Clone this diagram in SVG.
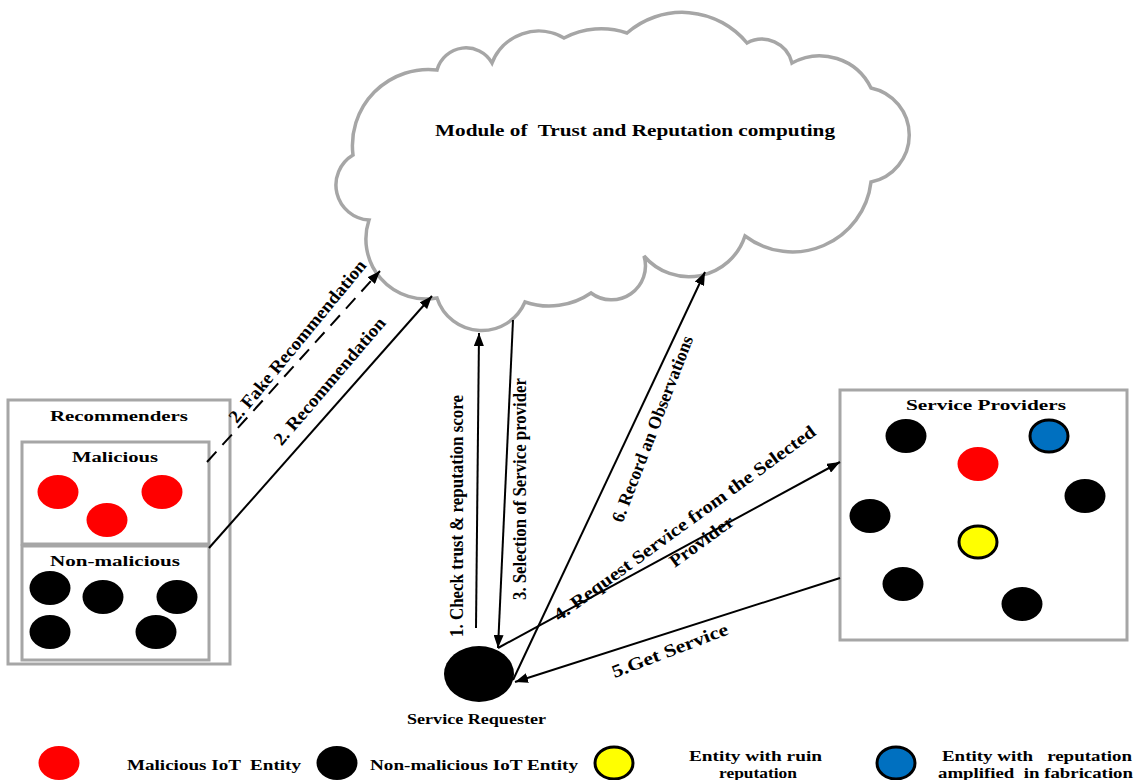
<svg xmlns="http://www.w3.org/2000/svg" width="1137" height="780" viewBox="0 0 1137 780">
<style>
.box{fill:#fff;stroke:#a6a6a6;stroke-width:3}
.cloud{fill:#fff;stroke:#a6a6a6;stroke-width:3.5}
.t{font-family:"Liberation Serif","Times New Roman",serif;font-weight:bold;fill:#000;white-space:pre}
.lbl{font-size:18px}
.hd{font-size:15px}
.lg{font-size:14px}
.conn{stroke:#000;stroke-width:2;fill:none;marker-end:url(#ah)}
.dash{stroke-dasharray:14 9}
.red{fill:#ff0000}
.blk{fill:#000}
.yel{fill:#ffff00;stroke:#000;stroke-width:3}
.blu{fill:#0070c0;stroke:#000;stroke-width:3}
</style>
<defs>
<marker id="ah" viewBox="0 0 13 10" refX="13" refY="5" markerWidth="13" markerHeight="10" markerUnits="userSpaceOnUse" orient="auto">
<path d="M0,0 L13,5 L0,10 Z" fill="#000"/>
</marker>
</defs>
<rect width="1137" height="780" fill="#fff"/>

<g id="cloud">
<path class="cloud" d="M353 155 A76 76 0 0 1 437 70 A30 30 0 0 1 492 63 A50 50 0 0 1 564 38 A80 80 0 0 1 627 33 A84 84 0 0 1 747 43 A31 31 0 0 1 792 63 A57 57 0 0 1 871 88 A48 48 0 0 1 871 182 A79 79 0 0 1 745 236 A59 59 0 0 1 644 256 A34 34 0 0 1 591 293 A74 74 0 0 1 525 302 A47 47 0 0 1 437 298 A60 60 0 0 1 369 220 A35 35 0 0 1 353 155 Z"/>
<text class="t" x="435" y="136" font-size="16" textLength="400" lengthAdjust="spacingAndGlyphs">Module of  Trust and Reputation computing</text>
</g>

<g id="recommenders">
<rect class="box" x="8" y="400" width="222" height="264"/>
<text class="t hd" x="50" y="421" textLength="138" lengthAdjust="spacingAndGlyphs">Recommenders</text>
</g>
<g id="malicious">
<rect class="box" x="22" y="442" width="187" height="102"/>
<text class="t hd" x="72" y="462" textLength="86" lengthAdjust="spacingAndGlyphs">Malicious</text>
<ellipse class="red" cx="58" cy="492" rx="20.5" ry="17"/>
<ellipse class="red" cx="162" cy="492" rx="20.5" ry="17"/>
<ellipse class="red" cx="107" cy="520" rx="20.5" ry="17"/>
</g>
<g id="non-malicious">
<rect class="box" x="22" y="546" width="187" height="114"/>
<text class="t hd" x="50" y="566" textLength="130" lengthAdjust="spacingAndGlyphs">Non-malicious</text>
<ellipse class="blk" cx="50" cy="588" rx="20.5" ry="17"/>
<ellipse class="blk" cx="103" cy="597" rx="20.5" ry="17"/>
<ellipse class="blk" cx="177" cy="597" rx="20.5" ry="17"/>
<ellipse class="blk" cx="50" cy="632" rx="20.5" ry="17"/>
<ellipse class="blk" cx="156" cy="632" rx="20.5" ry="17"/>
</g>

<g id="service-providers">
<rect class="box" x="840" y="390" width="287" height="250"/>
<text class="t hd" x="906" y="410" textLength="160" lengthAdjust="spacingAndGlyphs">Service Providers</text>
<ellipse class="blk" cx="906" cy="436" rx="20.5" ry="17"/>
<ellipse class="blu" cx="1049" cy="436" rx="19" ry="16"/>
<ellipse class="red" cx="978" cy="464" rx="20.5" ry="17"/>
<ellipse class="blk" cx="1085" cy="496" rx="20.5" ry="17"/>
<ellipse class="blk" cx="870" cy="516" rx="20.5" ry="17"/>
<ellipse class="yel" cx="978" cy="542" rx="19" ry="16"/>
<ellipse class="blk" cx="903" cy="584" rx="20.5" ry="17"/>
<ellipse class="blk" cx="1022" cy="604" rx="20.5" ry="17"/>
</g>

<g id="service-requester">
<ellipse class="blk" cx="479" cy="674" rx="35" ry="28"/>
<text class="t" x="407" y="724" font-size="14" textLength="139" lengthAdjust="spacingAndGlyphs">Service Requester</text>
</g>

<g id="connectors">
<line class="conn dash" x1="207" y1="462" x2="380" y2="271"/>
<line class="conn" x1="209" y1="548" x2="432" y2="296"/>
<line class="conn" x1="476" y1="628" x2="479" y2="333"/>
<line class="conn" x1="513" y1="320" x2="498" y2="648"/>
<line class="conn" x1="513" y1="680" x2="705" y2="272"/>
<line class="conn" x1="498" y1="648" x2="840" y2="462"/>
<line class="conn" x1="840" y1="578" x2="515" y2="682"/>
</g>

<g id="connector-labels">
<text class="t lbl" text-anchor="middle" transform="translate(302,345) rotate(-50.5)" textLength="205" lengthAdjust="spacingAndGlyphs">2. Fake Recommendation</text>
<text class="t lbl" text-anchor="middle" transform="translate(334,385) rotate(-49.5)" textLength="162" lengthAdjust="spacingAndGlyphs">2. Recommendation</text>
<text class="t lbl" text-anchor="middle" transform="translate(463,516) rotate(-90)" textLength="242" lengthAdjust="spacingAndGlyphs">1. Check trust &amp; reputation score</text>
<text class="t lbl" text-anchor="middle" transform="translate(526,489) rotate(-90)" textLength="222" lengthAdjust="spacingAndGlyphs">3. Selection of Service provider</text>
<text class="t lbl" text-anchor="middle" transform="translate(658,431) rotate(-69)" textLength="198" lengthAdjust="spacingAndGlyphs">6. Record an Observations</text>
<text class="t lbl" text-anchor="middle" transform="translate(688,528) rotate(-36)" textLength="319" lengthAdjust="spacingAndGlyphs">4. Request Service from the Selected</text>
<text class="t lbl" text-anchor="middle" transform="translate(705,546) rotate(-36)" textLength="75" lengthAdjust="spacingAndGlyphs">Provider</text>
<text class="t lbl" text-anchor="middle" transform="translate(672,656) rotate(-21)" textLength="123" lengthAdjust="spacingAndGlyphs">5.Get Service</text>
</g>

<g id="legend">
<ellipse class="red" cx="59" cy="763" rx="20.5" ry="17"/>
<text class="t lg" x="127" y="770" textLength="174" lengthAdjust="spacingAndGlyphs">Malicious IoT  Entity</text>
<ellipse class="blk" cx="337" cy="763" rx="20.5" ry="17"/>
<text class="t lg" x="370" y="770" textLength="208" lengthAdjust="spacingAndGlyphs">Non-malicious IoT Entity</text>
<ellipse class="yel" cx="614" cy="763" rx="19" ry="16"/>
<text class="t lg" x="689" y="761" textLength="133" lengthAdjust="spacingAndGlyphs">Entity with ruin</text>
<text class="t lg" x="719" y="778" textLength="78" lengthAdjust="spacingAndGlyphs">reputation</text>
<ellipse class="blu" cx="896" cy="763" rx="19" ry="16"/>
<text class="t lg" x="942" y="761" textLength="190" lengthAdjust="spacingAndGlyphs">Entity with   reputation</text>
<text class="t lg" x="938" y="778" textLength="195" lengthAdjust="spacingAndGlyphs">amplified  in fabrication</text>
</g>
</svg>
